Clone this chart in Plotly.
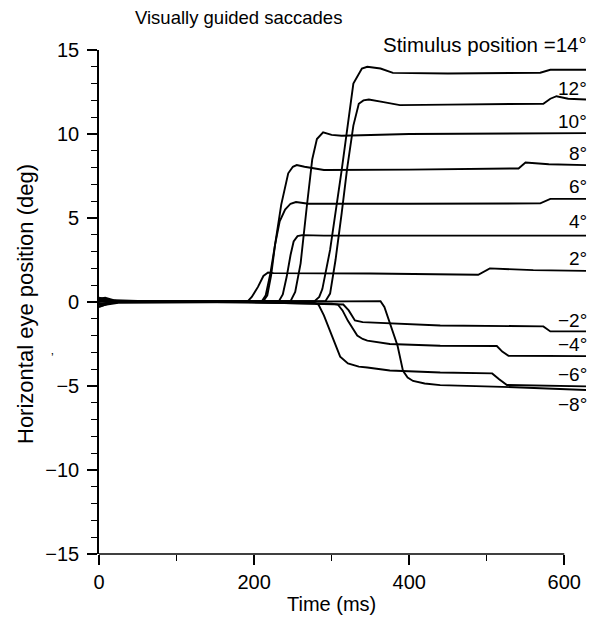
import plotly.graph_objects as go

# ---- data (time in ms, horizontal eye position in deg) ----
stimuli = ["14", "12", "10", "8", "6", "4", "2", "-2", "-4", "-6", "-8"]

t14 = [0, 8, 20, 60, 150, 278, 284, 288, 298, 313, 328, 339, 346, 363, 379, 450, 569, 582, 628]
y14 = [0.2, 0.25, 0.1, 0.05, 0.05, 0.05, 0.3, 0.77, 3.1, 7.86, 13.0, 13.9, 14.0, 13.9, 13.64, 13.6, 13.65, 13.82, 13.82]

t12 = [0, 10, 25, 150, 292, 298, 305, 313, 320, 328, 335, 341, 348, 367, 388, 450, 573, 582, 590, 605, 628]
y12 = [0.15, 0.12, 0.05, 0.05, 0.05, 0.5, 2.5, 5.3, 7.95, 10.5, 11.8, 12.0, 12.05, 11.9, 11.72, 11.75, 11.8, 12.1, 12.25, 12.1, 12.05]

t10 = [0, 10, 25, 150, 247, 253, 260, 268, 275, 281, 289, 300, 313, 400, 628]
y10 = [-0.15, -0.1, 0.0, 0.05, 0.05, 0.6, 2.3, 5.7, 8.5, 9.7, 10.1, 9.95, 9.9, 10.0, 10.05]

t8 = [0, 10, 25, 150, 212, 217, 222, 227, 235, 244, 250, 255, 265, 290, 400, 541, 550, 580, 628]
y8 = [0.1, 0.05, 0.0, 0.05, 0.05, 0.4, 1.6, 3.4, 5.8, 7.66, 8.05, 8.15, 8.05, 7.86, 7.88, 7.95, 8.3, 8.2, 8.15]

t6 = [0, 8, 22, 150, 210, 215, 221, 227, 233, 240, 247, 254, 270, 400, 569, 582, 628]
y6 = [-0.3, -0.15, 0.0, 0.05, 0.05, 0.4, 1.7, 3.4, 4.8, 5.5, 5.85, 5.95, 5.85, 5.85, 5.87, 6.14, 6.14]

t4 = [0, 10, 25, 150, 232, 237, 242, 247, 251, 256, 262, 290, 628]
y4 = [0.25, 0.15, 0.05, 0.05, 0.05, 0.45, 1.5, 2.8, 3.6, 3.92, 3.98, 3.95, 3.95]

t2 = [0, 10, 25, 150, 192, 197, 205, 212, 218, 225, 350, 489, 497, 504, 560, 628]
y2 = [0.0, 0.05, 0.05, 0.05, 0.05, 0.3, 0.9, 1.55, 1.75, 1.72, 1.7, 1.62, 1.85, 2.0, 1.9, 1.85]

tm2 = [0, 10, 25, 150, 300, 315, 322, 330, 340, 375, 440, 573, 582, 628]
ym2 = [0.1, 0.08, 0.05, 0.05, -0.1, -0.15, -0.5, -1.1, -1.2, -1.28, -1.4, -1.45, -1.75, -1.75]

tm4 = [0, 10, 25, 150, 300, 308, 314, 321, 327, 333, 340, 346, 375, 440, 513, 520, 528, 628]
ym4 = [-0.1, -0.05, 0.0, 0.0, -0.1, -0.15, -0.5, -1.12, -1.6, -2.0, -2.2, -2.3, -2.5, -2.6, -2.62, -2.95, -3.2, -3.22]

tm6 = [0, 10, 25, 150, 278, 283, 290, 298, 305, 311, 321, 335, 346, 375, 440, 507, 516, 526, 628]
ym6 = [0.05, 0.0, 0.0, 0.0, -0.05, -0.15, -0.8, -1.77, -2.6, -3.25, -3.66, -3.85, -3.9, -4.08, -4.2, -4.25, -4.6, -4.94, -5.02]

tm8 = [0, 10, 25, 150, 300, 363, 368, 373, 379, 385, 392, 398, 405, 420, 440, 520, 628]
ym8 = [-0.25, -0.15, -0.05, 0.0, 0.05, 0.05, -0.3, -1.0, -1.8, -2.6, -4.1, -4.5, -4.7, -4.85, -4.95, -5.05, -5.24]

series_t = [t14, t12, t10, t8, t6, t4, t2, tm2, tm4, tm6, tm8]
series_y = [y14, y12, y10, y8, y6, y4, y2, ym2, ym4, ym6, ym8]

label_texts = ["Stimulus position =14°", "12°", "10°", "8°", "6°", "4°", "2°",
               "\u22122°", "\u22124°", "\u22126°", "\u22128°"]
label_py = [44, 89, 121, 153, 186, 221, 258, 320, 345, 375, 404]   # label centres (px from top)
label_size = [20.5, 19, 19, 19, 19, 19, 19, 19, 19, 19, 19]

x_ticks = [0, 200, 400, 600]
x_minor = [100, 300, 500]
y_ticks = [-15, -10, -5, 0, 5, 10, 15]
y_tick_text = ["\u221215", "\u221210", "\u22125", "0", "5", "10", "15"]

FONT = "Liberation Sans, Arial, Helvetica, sans-serif"

# page has an 8px body margin: figure occupies 8..606 x 8..618
OFF = 8
PLOT_TOP, PLOT_BOTTOM, PLOT_LEFT, PLOT_W = 50, 554, 99, 487
H_PLOT = PLOT_BOTTOM - PLOT_TOP


def py2paper(py):
    return (PLOT_BOTTOM - py) / H_PLOT


def px2paper(px):
    return (px - PLOT_LEFT) / PLOT_W


fig = go.Figure()
for name, tt, yy in zip(stimuli, series_t, series_y):
    fig.add_trace(go.Scatter(x=tt, y=yy, mode="lines", name=name,
                             line=dict(color="black", width=1.9), showlegend=False))

annotations = []
for txt, py, sz in zip(label_texts, label_py, label_size):
    annotations.append(dict(x=1.0, y=py2paper(py), xref="paper", yref="paper", text=txt,
                            showarrow=False, xanchor="right", yanchor="middle", xshift=3,
                            font=dict(size=sz, color="black", family=FONT)))

annotations.append(dict(x=px2paper(135), y=py2paper(17), xref="paper", yref="paper",
                        text="Visually guided saccades", showarrow=False,
                        xanchor="left", yanchor="middle", xshift=-2,
                        font=dict(size=18.5, color="black", family=FONT)))
annotations.append(dict(x=300, y=py2paper(604), xref="x", yref="paper",
                        text="Time (ms)", showarrow=False, xanchor="center", yanchor="middle",
                        font=dict(size=20, color="black", family=FONT)))
annotations.append(dict(x=px2paper(25), y=py2paper(304), xref="paper", yref="paper",
                        text="Horizontal eye position (deg)", showarrow=False, textangle=-90,
                        xanchor="center", yanchor="middle",
                        font=dict(size=22, color="black", family=FONT)))
annotations.append(dict(x=px2paper(52), y=py2paper(358), xref="paper", yref="paper",
                        text="\u2019", showarrow=False, xanchor="center", yanchor="middle",
                        font=dict(size=12, color="black", family=FONT)))

fig.update_layout(
    width=606 - OFF, height=618 - OFF,
    margin=dict(l=PLOT_LEFT - OFF, r=20, t=PLOT_TOP - OFF, b=618 - OFF - (PLOT_BOTTOM - OFF)),
    plot_bgcolor="white", paper_bgcolor="white",
    font=dict(family=FONT, size=19, color="black"),
    annotations=annotations,
    shapes=[dict(type="line", xref="paper", yref="paper", x0=0, x1=600 / 628, y0=0, y1=0,
                 line=dict(color="black", width=1.6))],
    xaxis=dict(range=[0, 628], showline=False, showgrid=False, zeroline=False,
               tickmode="array", tickvals=x_ticks, ticks="outside", ticklen=10, tickwidth=1.6,
               tickcolor="black", tickfont=dict(size=20),
               minor=dict(tickmode="array", tickvals=x_minor, ticks="outside", ticklen=6,
                          tickwidth=1.4, tickcolor="black")),
    yaxis=dict(range=[-15, 15], showline=True, linecolor="black", linewidth=1.6,
               showgrid=False, zeroline=False, tickmode="array", tickvals=y_ticks,
               ticktext=y_tick_text, ticks="outside", ticklen=10, tickwidth=1.6,
               tickcolor="black", tickfont=dict(size=20), ticklabelstandoff=4,
               minor=dict(dtick=1, ticks="outside", ticklen=6, tickwidth=1.4, tickcolor="black")),
)

fig.write_html("out.html")
